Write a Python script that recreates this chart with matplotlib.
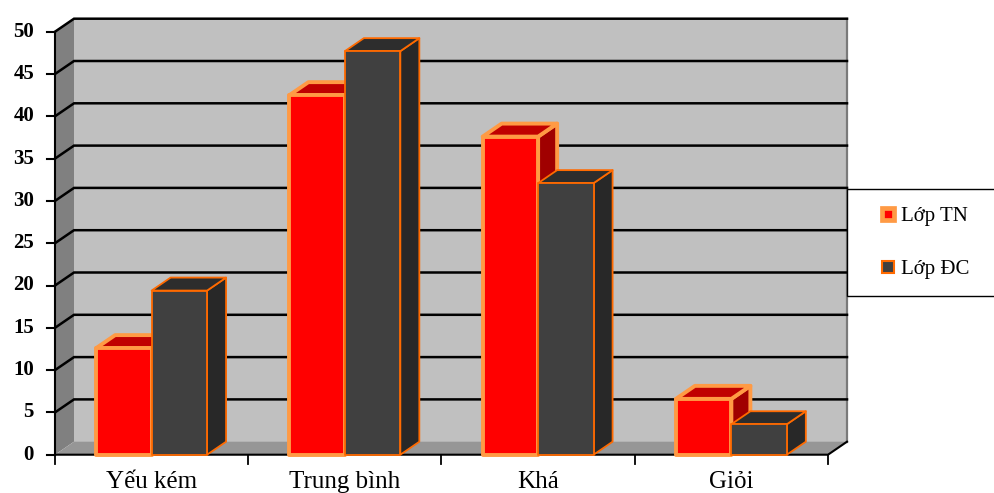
import matplotlib
matplotlib.use("Agg")
import matplotlib.pyplot as plt
from matplotlib.patches import Polygon, Rectangle
from matplotlib.lines import Line2D

# --- data -------------------------------------------------------------
categories = ["Yếu kém", "Trung bình", "Khá", "Giỏi"]
series_names = ["Lớp TN", "Lớp ĐC"]
values_tn = [12.6, 42.5, 37.6, 6.6]
values_dc = [19.4, 47.7, 32.1, 3.6]
y_ticks = [0, 5, 10, 15, 20, 25, 30, 35, 40, 45, 50]

# --- layout (pixels) --------------------------------------------------
W_PX, H_PX = 995, 493
X0_PX, CAT_PX = 55.0, 193.25      # left of plot, width of one category
Y0_PX, UNIT_PX = 454.7, 8.46      # baseline from top, pixels per unit
DEPTH_X_PX, DEPTH_Y_PX = 19.0, 13.0

fig = plt.figure(figsize=(W_PX / 100, H_PX / 100), dpi=100)
ax = fig.add_axes([0, 0, 1, 1])
ax.set_xlim(-X0_PX / CAT_PX, (W_PX - X0_PX) / CAT_PX)
ax.set_ylim(-(H_PX - Y0_PX) / UNIT_PX, Y0_PX / UNIT_PX)
ax.axis("off")

DX = DEPTH_X_PX / CAT_PX
DY = DEPTH_Y_PX / UNIT_PX
px_x = 1 / CAT_PX
px_y = 1 / UNIT_PX
n = len(categories)
ymax = y_ticks[-1]

SERIF = ["Liberation Serif", "DejaVu Serif"]

# --- walls and floor ------------------------------------------------------
ax.add_patch(Polygon([(DX, DY), (n + DX, DY), (n + DX, ymax + DY), (DX, ymax + DY)],
                     closed=True, facecolor="#c0c0c0", edgecolor="none", zorder=1))
ax.add_patch(Polygon([(0, 0), (DX, DY), (DX, ymax + DY), (0, ymax)],
                     closed=True, facecolor="#808080", edgecolor="none", zorder=1))
ax.add_patch(Polygon([(0, 0), (n, 0), (n + DX, DY), (DX, DY)],
                     closed=True, facecolor="#969696", edgecolor="none", zorder=1))
# right edge of back wall
ax.plot([n + DX, n + DX], [DY, ymax + DY], color="#7a7a7a", lw=1.6, zorder=1.5)

# gridlines on side and back walls
for v in y_ticks[1:]:
    ax.plot([0, DX, n + DX], [v, v + DY, v + DY], color="black", lw=1.8,
            solid_joinstyle="miter", zorder=2)

# axes lines and ticks
ax.plot([0, 0], [0, ymax], color="black", lw=1.5, zorder=2)
ax.plot([0, n, n + DX], [0, 0, DY], color="black", lw=1.5, zorder=2)
for v in y_ticks:
    ax.plot([-8 * px_x, 0], [v, v], color="black", lw=1.5, zorder=2)
    ax.text(-21 * px_x, v, str(v), ha="right", va="center", fontsize=15,
            fontweight="bold", family=SERIF)
for k in range(n + 1):
    ax.plot([k, k], [0, -9 * px_y], color="black", lw=1.3, zorder=2)
for k, cat in enumerate(categories):
    ax.text(k + 0.5, -(488 - Y0_PX) * px_y, cat, ha="center", va="baseline",
            fontsize=18, family=SERIF)


# --- 3D bars ----------------------------------------------------------
def bar3d(x0, x1, h, front, top, side, edge, lw, z):
    kw = dict(closed=True, edgecolor=edge, linewidth=lw, joinstyle="round")
    ax.add_patch(Polygon([(x1, 0), (x1 + DX, DY), (x1 + DX, h + DY), (x1, h)],
                         facecolor=side, zorder=z, **kw))
    ax.add_patch(Polygon([(x0, h), (x1, h), (x1 + DX, h + DY), (x0 + DX, h + DY)],
                         facecolor=top, zorder=z, **kw))
    ax.add_patch(Polygon([(x0, 0), (x1, 0), (x1, h), (x0, h)],
                         facecolor=front, zorder=z + 0.1, **kw))


BAR_W = 0.287
for k in range(n):
    c = k + 0.5
    bar3d(c - BAR_W, c, values_tn[k], "#ff0000", "#c00000", "#a00000",
          "#ff9a44", 2.8, 3 + 2 * k)
    bar3d(c, c + BAR_W, values_dc[k], "#404040", "#2d2d2d", "#282828",
          "#ff6a00", 1.3, 4 + 2 * k)

# --- legend -----------------------------------------------------------
fig.patches.append(Rectangle((847 / W_PX, 1 - 296 / H_PX), 0.2, (296 - 189) / H_PX,
                             transform=fig.transFigure, facecolor="white",
                             edgecolor="black", linewidth=1.0, zorder=10))
handles = [
    Line2D([], [], linestyle="none", marker="s", markersize=8.5,
           markerfacecolor="#ff0000", markeredgecolor="#ff9a44", markeredgewidth=3.4),
    Line2D([], [], linestyle="none", marker="s", markersize=9,
           markerfacecolor="#404040", markeredgecolor="#ff6a00", markeredgewidth=1.5),
]
leg = fig.legend(handles, series_names, loc="center left",
                 bbox_to_anchor=(861 / W_PX, 1 - 243 / H_PX), frameon=False,
                 prop={"family": SERIF, "size": 15}, handlelength=0.8,
                 handletextpad=0.2, labelspacing=1.6)
leg.set_zorder(11)

fig.savefig("out.png", dpi=100)
